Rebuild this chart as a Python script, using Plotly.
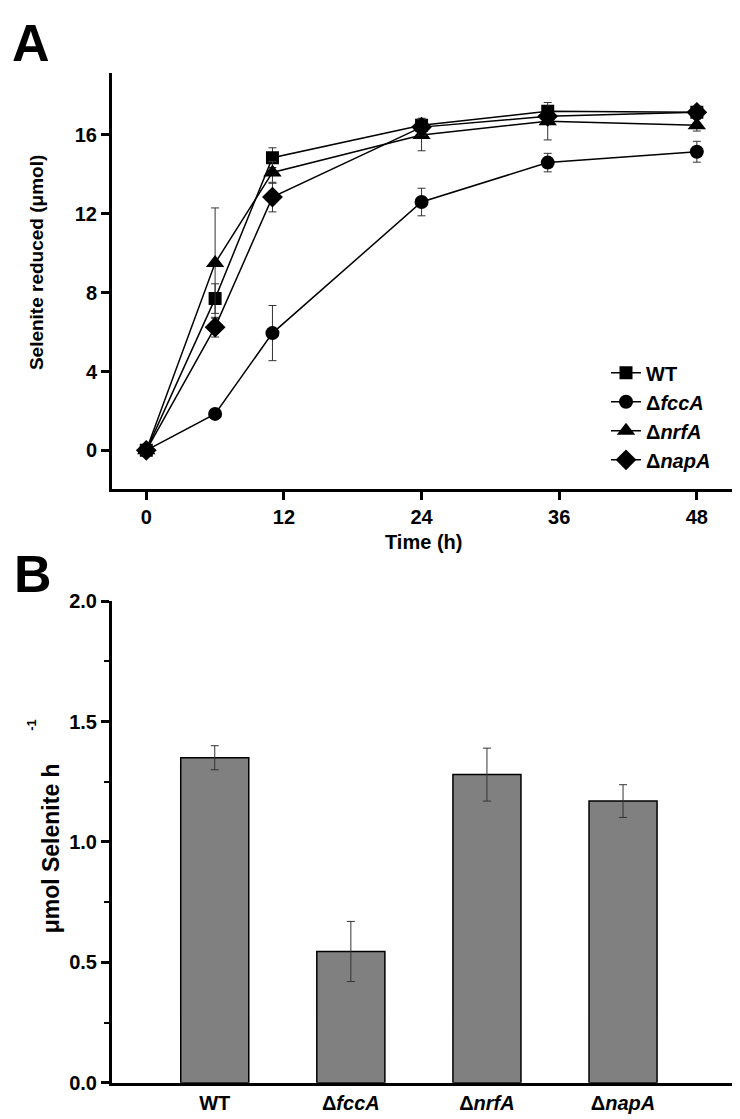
import plotly.graph_objects as go

W, H = 740, 1119

# ---------------- data ----------------
times = [0, 6, 11, 24, 35, 48]
wt_vals = [0, 7.7, 14.85, 16.5, 17.2, 17.15]
wt_err = [0, 0.75, 0.5, 0.35, 0.2, 0.2]
fcca_vals = [0, 1.85, 5.95, 12.6, 14.6, 15.15]
fcca_err = [0, 0.1, 1.4, 0.7, 0.47, 0.53]
nrfa_vals = [0, 9.5, 14.1, 16.0, 16.7, 16.5]
nrfa_err = [0, 2.8, 0.55, 0.8, 0.95, 0.3]
napa_vals = [0, 6.25, 12.85, 16.4, 16.95, 17.15]
napa_err = [0, 0.5, 0.75, 0.4, 0.3, 0.2]

series_names = ["WT", "Δ<i>fccA</i>", "Δ<i>nrfA</i>", "Δ<i>napA</i>"]
series_symbols = ["square", "circle", "triangle-up", "diamond"]
series_sizes = [13, 14, 16, 16]

x_ticks_a = [0, 12, 24, 36, 48]
y_ticks_a = [0, 4, 8, 12, 16]

strains = ["WT", "Δ<i>fccA</i>", "Δ<i>nrfA</i>", "Δ<i>napA</i>"]
rates = [1.35, 0.545, 1.28, 1.17]
rate_err = [0.05, 0.125, 0.11, 0.068]
y_ticks_b = [0.0, 0.5, 1.0, 1.5, 2.0]
y_ticklabels_b = ["0.0", "0.5", "1.0", "1.5", "2.0"]

FONT = "Liberation Sans, Arial, sans-serif"

def px_x(p):
    return p / W

def px_y(p):
    return 1 - p / H

fig = go.Figure()

all_vals = [wt_vals, fcca_vals, nrfa_vals, napa_vals]
all_errs = [wt_err, fcca_err, nrfa_err, napa_err]
for name, sym, sz, vals, errs in zip(series_names, series_symbols, series_sizes, all_vals, all_errs):
    fig.add_trace(go.Scatter(
        x=times, y=vals, name=name, mode="lines+markers",
        line=dict(color="black", width=1.5),
        marker=dict(symbol=sym, size=sz, color="black"),
        error_y=dict(type="data", array=errs, visible=True, color="#333333",
                     thickness=1, width=4),
        legendgroup=name,
        xaxis="x", yaxis="y",
    ))

fig.add_trace(go.Bar(
    x=list(range(len(strains))), y=rates, width=0.5,
    marker=dict(color="#808080", line=dict(color="black", width=1.5)),
    error_y=dict(type="data", array=rate_err, visible=True, color="#333333",
                 thickness=1, width=4),
    showlegend=False, xaxis="x2", yaxis="y2",
))

TICKFONT = dict(family=FONT, size=20, color="black", weight="bold")
axis_common = dict(showline=True, linecolor="black", linewidth=3, showgrid=False,
                   zeroline=False, ticks="outside", tickcolor="black",
                   tickfont=TICKFONT)

fig.update_layout(
    width=W, height=H,
    margin=dict(l=0, r=0, t=0, b=0),
    paper_bgcolor="white", plot_bgcolor="white",
    font=dict(family=FONT, color="black"),
    xaxis=dict(domain=[px_x(104), px_x(737)], range=[-2.99, 52.2],
               tickvals=x_ticks_a, ticklen=8, tickwidth=3, anchor="y",
               **axis_common),
    yaxis=dict(domain=[px_y(479), px_y(55)], range=[-1.94, 19.15],
               tickvals=y_ticks_a, ticklen=8, tickwidth=3, anchor="x",
               **axis_common),
    xaxis2=dict(domain=[px_x(104), px_x(728)], range=[-0.755, 3.83],
                tickvals=list(range(len(strains))), ticktext=strains,
                showline=True, linecolor="black", linewidth=3, showgrid=False,
                zeroline=False, ticks="", anchor="y2", tickfont=TICKFONT),
    yaxis2=dict(domain=[px_y(1085), px_y(594)], range=[0, 2.0],
                tickvals=y_ticks_b, ticktext=y_ticklabels_b,
                ticklen=8, tickwidth=3, anchor="x2",
                minor=dict(dtick=0.25, ticks="outside", ticklen=5, tickwidth=2,
                           tickcolor="black"),
                **axis_common),
    legend=dict(x=px_x(598), y=px_y(341), xanchor="left", yanchor="top",
                bgcolor="rgba(0,0,0,0)", tracegroupgap=0,
                font=dict(family=FONT, size=20, color="black", weight="bold")),
    showlegend=True,
)

annotations = [
    dict(text="A", x=px_x(2), y=px_y(24), xref="paper", yref="paper",
         xanchor="left", yanchor="middle", showarrow=False,
         font=dict(family=FONT, size=52, color="black", weight="bold")),
    dict(text="B", x=px_x(4), y=px_y(566), xref="paper", yref="paper",
         xanchor="left", yanchor="middle", showarrow=False,
         font=dict(family=FONT, size=52, color="black", weight="bold")),
    dict(text="Selenite reduced (μmol)", x=px_x(28), y=px_y(249), xref="paper", yref="paper",
         xanchor="center", yanchor="middle", textangle=-90, showarrow=False,
         font=dict(family=FONT, size=19, color="black", weight="bold")),
    dict(text="Time (h)", x=px_x(415), y=px_y(533), xref="paper", yref="paper",
         xanchor="center", yanchor="middle", showarrow=False,
         font=dict(family=FONT, size=20, color="black", weight="bold")),
    dict(text="μmol Selenite h", x=px_x(43), y=px_y(846), xref="paper", yref="paper",
         xanchor="center", yanchor="middle", textangle=-90, showarrow=False,
         font=dict(family=FONT, size=23, color="black", weight="bold")),
    dict(text="-1", x=px_x(24), y=px_y(720), xref="paper", yref="paper",
         xanchor="center", yanchor="middle", textangle=-90, showarrow=False,
         font=dict(family=FONT, size=13, color="black", weight="bold")),
]
fig.update_layout(annotations=annotations)

fig.write_html("out.html")
